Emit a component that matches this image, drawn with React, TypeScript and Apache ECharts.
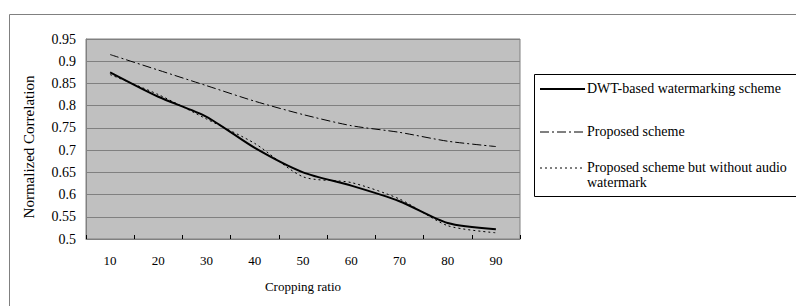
import React, { useEffect, useRef } from "react";
import * as echarts from "echarts";

const categories = ["10", "20", "30", "40", "50", "60", "70", "80", "90"];
const seriesNames = [
  "DWT-based watermarking scheme",
  "Proposed scheme",
  "Proposed scheme but without audio\nwatermark",
];
const dwtValues = [0.875, 0.82, 0.775, 0.705, 0.65, 0.62, 0.585, 0.536, 0.522];
const proposedValues = [0.915, 0.88, 0.845, 0.81, 0.78, 0.755, 0.74, 0.72, 0.708];
const noAudioValues = [0.87, 0.825, 0.77, 0.715, 0.64, 0.627, 0.59, 0.53, 0.514];

const FONT = "'Liberation Serif', 'Times New Roman', serif";

export default function App() {
  const ref = useRef<HTMLDivElement>(null);
  useEffect(() => {
    document.body.style.margin = "0";
    const chart = echarts.init(ref.current!, null, { renderer: "svg" });
    const lineStyles: any[] = [
      { color: "#000", width: 2, type: "solid" },
      { color: "#000", width: 1, type: [9, 3, 2, 3] },
      { color: "#000", width: 1, type: [2, 3] },
    ];
    const datas = [dwtValues, proposedValues, noAudioValues];
    const legendY = [89, 132, 168];
    const legendGraphics: any[] = [];
    seriesNames.forEach((n, i) => {
      legendGraphics.push({
        type: "line",
        shape: { x1: 540, y1: legendY[i], x2: 585, y2: legendY[i] },
        style: { stroke: "#000", lineWidth: lineStyles[i].width, lineDash: lineStyles[i].type === "solid" ? null : lineStyles[i].type },
      });
      legendGraphics.push({
        type: "text",
        x: 587,
        y: legendY[i] - 8,
        style: { text: n, fontFamily: FONT, fontSize: 14, fill: "#000", lineHeight: 15 },
      });
    });
    chart.setOption({
      animation: false,
      textStyle: { fontFamily: FONT },
      grid: {
        left: 86,
        top: 39,
        width: 434,
        height: 200,
        show: true,
        backgroundColor: "#C0C0C0",
        borderColor: "#808080",
        borderWidth: 1,
      },
      xAxis: {
        type: "category",
        data: categories,
        boundaryGap: true,
        name: "Cropping ratio",
        nameLocation: "middle",
        nameGap: 41,
        nameTextStyle: { fontFamily: FONT, fontSize: 13, color: "#000" },
        axisLine: { lineStyle: { color: "#808080", width: 1 } },
        axisTick: { show: true, inside: true, length: 4, lineStyle: { color: "#000" } },
        axisLabel: { fontFamily: FONT, fontSize: 13, color: "#000", margin: 15 },
      },
      yAxis: {
        type: "value",
        min: 0.5,
        max: 0.95,
        interval: 0.05,
        name: "Normalized Correlation",
        nameLocation: "middle",
        nameGap: 50,
        nameTextStyle: { fontFamily: FONT, fontSize: 15, color: "#000", padding: [0, 16, 0, 0] },
        axisLine: { show: true, lineStyle: { color: "#808080" } },
        axisTick: { show: false },
        splitLine: { lineStyle: { color: "#808080", width: 1 } },
        axisLabel: {
          fontFamily: FONT,
          fontSize: 14,
          color: "#000",
          margin: 10,
          formatter: (v: number) => String(parseFloat(v.toFixed(2))),
        },
      },
      series: datas.map((d, i) => ({
        type: "line",
        name: seriesNames[i],
        data: d,
        smooth: 0.25,
        symbol: "none",
        lineStyle: lineStyles[i],
      })),
      graphic: [
        {
          type: "rect",
          shape: { x: 9.5, y: 14.5, width: 900, height: 400 },
          style: { fill: "none", stroke: "#808080", lineWidth: 1 },
          z: -1,
        },
        {
          type: "rect",
          shape: { x: 534.5, y: 74.5, width: 300, height: 122 },
          style: { fill: "#fff", stroke: "#000", lineWidth: 1 },
        },
        ...legendGraphics,
      ],
    });
    return () => chart.dispose();
  }, []);
  return <div ref={ref} style={{ width: 796, height: 306 }} />;
}
